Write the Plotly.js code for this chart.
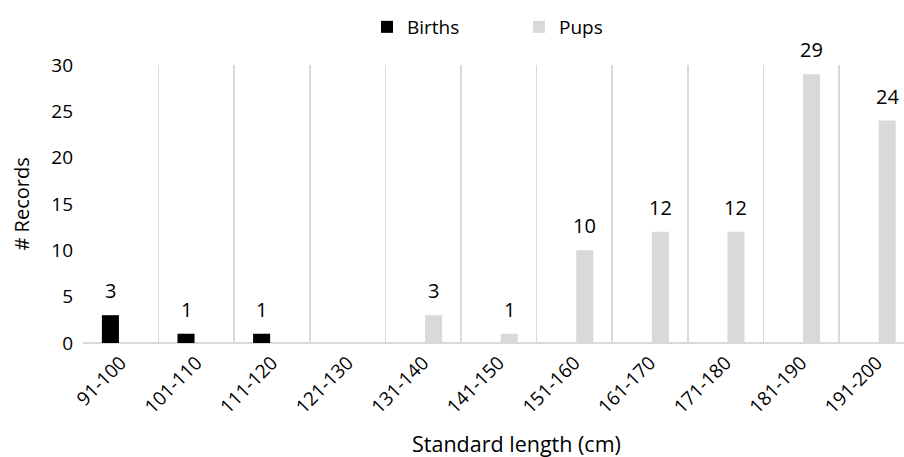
<!DOCTYPE html>
<html>
<head>
<meta charset="utf-8">
<script src="https://cdn.plot.ly/plotly-3.0.1.min.js"></script>
<style>html,body{margin:0;padding:0;overflow:hidden;background:#fff}</style>
</head>
<body>
<div id="chart" style="width:904px;height:457px"></div>
<script>
const categories = ["91-100","101-110","111-120","121-130","131-140","141-150","151-160","161-170","171-180","181-190","191-200"];
const births = [3, 1, 1, null, null, null, null, null, null, null, null];
const pups = [null, null, null, null, 3, 1, 10, 12, 12, 29, 24];
const seriesNames = ["Births", "Pups"];
const yTicks = [0, 5, 10, 15, 20, 25, 30];

const FONT = "Open Sans, sans-serif";
const W = 904, H = 457;
const ML = 83, MR = 0, MT = 65, MB = 114;
const BARGAP = 0.45;
const xMax = 10.36;
const catPx = (W - ML - MR) / (xMax + 0.5);
const slot = catPx * (1 - BARGAP) / 2;

const traces = [
  {type: "bar", name: seriesNames[0], x: categories, y: births, marker: {color: "#000000"}, hoverinfo: "x+y"},
  {type: "bar", name: seriesNames[1], x: categories, y: pups, marker: {color: "#d9d9d9"}, hoverinfo: "x+y"}
];

const annotations = [];
[births, pups].forEach((vals, si) => {
  const shift = (si === 0 ? -1 : 1) * slot / 2;
  vals.forEach((v, i) => {
    if (v === null || v === undefined) return;
    annotations.push({
      x: categories[i], y: v, xref: "x", yref: "y",
      text: String(v), showarrow: false,
      xanchor: "center", yanchor: "bottom",
      xshift: shift, yshift: 9,
      font: {family: FONT, size: 20, color: "#000000"}
    });
  });
});
annotations.push({
  text: "Standard length (cm)", xref: "paper", yref: "paper",
  x: (516 - ML) / (W - ML - MR), y: -(443 - (H - MB)) / (H - MT - MB),
  xanchor: "center", yanchor: "middle", showarrow: false,
  font: {family: FONT, size: 21.5, color: "#000000"}
});
annotations.push({
  text: "# Records", xref: "paper", yref: "paper",
  x: -(ML - 20.5) / (W - ML - MR), y: 0.5, textangle: -90,
  xanchor: "center", yanchor: "middle", showarrow: false,
  font: {family: FONT, size: 20, color: "#000000"}
});

const layout = {
  width: W, height: H,
  margin: {l: ML, r: MR, t: MT, b: MB, pad: 0},
  paper_bgcolor: "#ffffff", plot_bgcolor: "#ffffff",
  font: {family: FONT, size: 19, color: "#000000"},
  barmode: "group", bargap: BARGAP, bargroupgap: 0.18,
  showlegend: true,
  legend: {orientation: "h", x: (367 - ML) / (W - ML - MR), xanchor: "left",
           y: 1 + (MT - 27) / (H - MT - MB), yanchor: "middle",
           font: {family: FONT, size: 19, color: "#000000"}, entrywidth: 107, entrywidthmode: "pixels",
           bgcolor: "rgba(0,0,0,0)", borderwidth: 0},
  xaxis: {
    type: "category", range: [-0.5, xMax], tickson: "boundaries",
    showgrid: true, gridcolor: "#d9d9d9", gridwidth: 1.5,
    showline: false, zeroline: false, ticks: "", tickangle: -45,
    ticklabelstandoff: 4,
    tickfont: {family: FONT, size: 19, color: "#000000"},
    fixedrange: true
  },
  yaxis: {
    range: [0, 30], tickvals: yTicks, ticktext: yTicks.map(String),
    showgrid: false, zeroline: true, zerolinecolor: "#d9d9d9", zerolinewidth: 2,
    showline: false, ticks: "", ticklabelstandoff: 9,
    tickfont: {family: FONT, size: 19, color: "#000000"},
    fixedrange: true
  },
  annotations: annotations
};

Plotly.newPlot("chart", traces, layout, {displayModeBar: false, staticPlot: true});
</script>
</body>
</html>
